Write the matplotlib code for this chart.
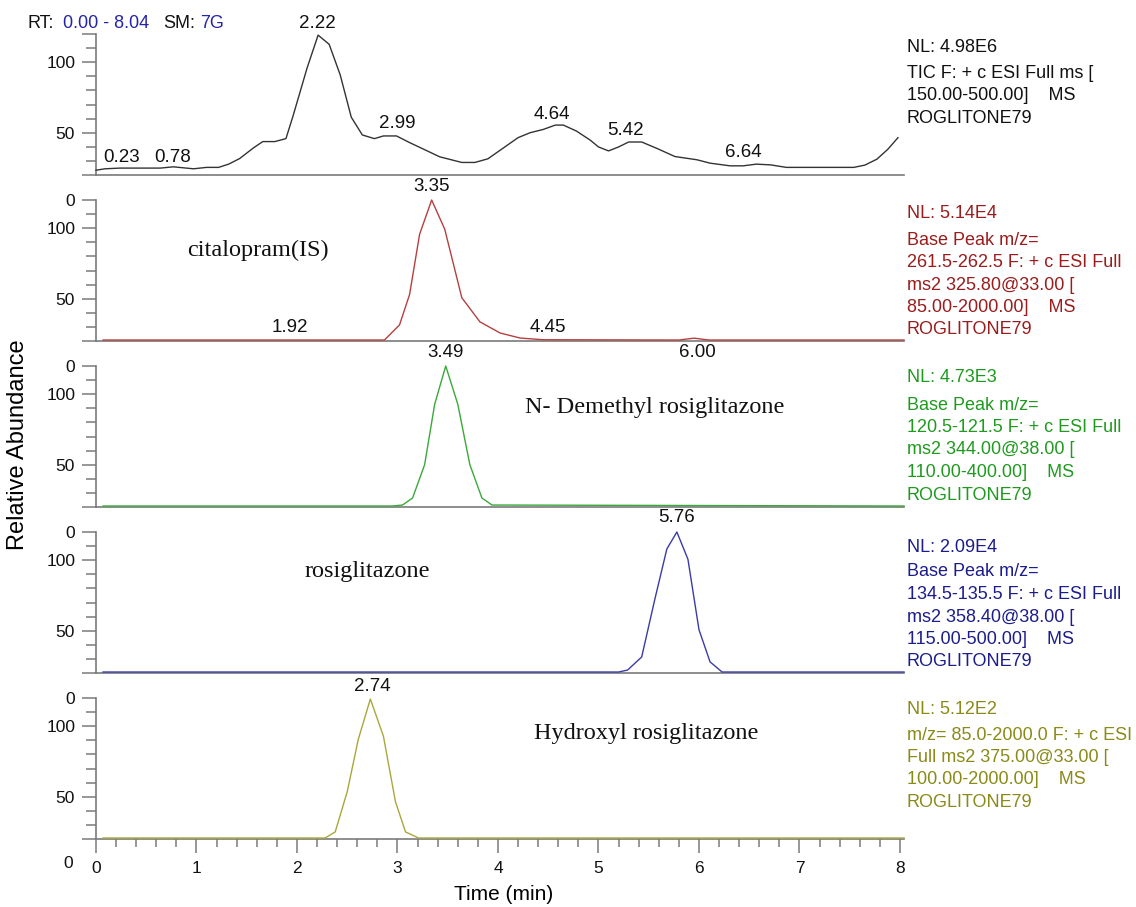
import numpy as np
import matplotlib
matplotlib.use("Agg")
import matplotlib.pyplot as plt

plt.rcParams['font.family'] = ['Liberation Sans', 'DejaVu Sans']

# chromatogram traces (time in min, relative abundance as drawn)
tic_t = [0.00, 0.09, 0.24, 0.64, 0.77, 0.97, 1.10, 1.22, 1.32, 1.43, 1.57, 1.66, 1.78, 1.89,
         1.96, 2.10, 2.21, 2.32, 2.43, 2.54, 2.65, 2.77, 2.86, 2.99, 3.12, 3.26, 3.42, 3.64,
         3.77, 3.90, 4.03, 4.20, 4.32, 4.45, 4.57, 4.65, 4.78, 4.92, 5.00, 5.10, 5.20, 5.30,
         5.43, 5.58, 5.76, 5.98, 6.11, 6.31, 6.44, 6.57, 6.71, 6.87, 7.24, 7.54, 7.65, 7.77,
         7.88, 7.98]
tic_v = [23.4, 24.4, 24.9, 24.9, 25.8, 24.4, 25.4, 25.4, 27.7, 31.7, 39.4, 43.7, 43.7, 45.8,
         61.7, 95.8, 119.2, 112.7, 91.0, 61.0, 48.4, 45.8, 47.7, 47.7, 43.0, 38.3, 32.9, 28.9,
         28.9, 31.5, 38.0, 46.5, 50.0, 52.3, 55.4, 55.4, 51.2, 44.6, 39.9, 37.1, 39.9, 43.4,
         43.4, 38.9, 33.1, 30.8, 28.4, 26.5, 26.5, 27.7, 27.2, 25.4, 25.4, 25.4, 27.0, 31.2,
         38.3, 46.5]

cit_t = [0.07, 2.87, 3.02, 3.12, 3.22, 3.34, 3.47, 3.64, 3.82, 4.02, 4.22, 4.45, 5.80, 5.95, 6.10, 8.04]
cit_v = [20.7, 20.7, 31.4, 52.9, 95.7, 120.0, 99.3, 50.7, 33.6, 25.7, 22.1, 20.9, 20.7, 22.0, 20.7, 20.7]

dm_t = [0.07, 2.95, 3.05, 3.15, 3.27, 3.37, 3.48, 3.60, 3.72, 3.84, 3.94, 8.04]
dm_v = [20.7, 20.7, 21.4, 26.4, 50.0, 92.9, 120.0, 92.9, 50.0, 26.4, 21.4, 20.7]

ro_t = [0.07, 5.20, 5.29, 5.43, 5.56, 5.68, 5.78, 5.89, 6.00, 6.11, 6.23, 8.04]
ro_v = [20.7, 20.7, 22.1, 31.4, 72.1, 107.9, 120.0, 100.7, 50.7, 27.9, 20.7, 20.7]

hy_t = [0.07, 2.28, 2.38, 2.50, 2.61, 2.73, 2.86, 2.98, 3.08, 3.21, 8.04]
hy_v = [20.7, 20.7, 25.0, 53.6, 90.7, 119.3, 92.9, 46.4, 25.0, 20.7, 20.7]

# peak labels: text, time, abundance of label centre
tic_peaks = [("2.22", 2.20, 127.5), ("0.23", 0.25, 32.4), ("0.78", 0.76, 32.4), ("2.99", 3.00, 56.3),
             ("4.64", 4.54, 62.7), ("5.42", 5.27, 51.4), ("6.64", 6.44, 35.9)]
cit_peaks = [("3.35", 3.34, 129.3), ("1.92", 1.93, 29.3), ("4.45", 4.50, 29.3), ("6.00", 5.98, 12.1)]
dm_peaks = [("3.49", 3.48, 129.3)]
ro_peaks = [("5.76", 5.78, 130.0)]
hy_peaks = [("2.74", 2.75, 127.9)]

compounds = ["", "citalopram(IS)", "N- Demethyl rosiglitazone", "rosiglitazone", "Hydroxyl rosiglitazone"]

nl_labels = ["NL: 4.98E6", "NL: 5.14E4", "NL: 4.73E3", "NL: 2.09E4", "NL: 5.12E2"]
scan_info = [
    ["TIC F: + c ESI Full ms [", "150.00-500.00]    MS", "ROGLITONE79"],
    ["Base Peak m/z=", "261.5-262.5 F: + c ESI Full", "ms2 325.80@33.00 [", "85.00-2000.00]    MS", "ROGLITONE79"],
    ["Base Peak m/z=", "120.5-121.5 F: + c ESI Full", "ms2 344.00@38.00 [", "110.00-400.00]    MS", "ROGLITONE79"],
    ["Base Peak m/z=", "134.5-135.5 F: + c ESI Full", "ms2 358.40@38.00 [", "115.00-500.00]    MS", "ROGLITONE79"],
    ["m/z= 85.0-2000.0 F: + c ESI", "Full ms2 375.00@33.00 [", "100.00-2000.00]    MS", "ROGLITONE79"],
]

traces = [(tic_t, tic_v), (cit_t, cit_v), (dm_t, dm_v), (ro_t, ro_v), (hy_t, hy_v)]
peaks = [tic_peaks, cit_peaks, dm_peaks, ro_peaks, hy_peaks]
line_colors = ["#333333", "#b5403f", "#3aa83a", "#3a3aa8", "#a8a83a"]
text_colors = ["#111111", "#9a1c1c", "#1f9a1f", "#1c1c8c", "#8a8a18"]

W, H = 1136, 907
def fx(px):
    return px / W
def fy(py):
    return 1 - py / H

fig = plt.figure(figsize=(W / 100, H / 100), dpi=100)

tops = [34, 200, 366, 532, 698]
ph = 141
axcol = "#7a7a7a"
name_pos = [None, (258, 250), (655, 407), (367, 572), (646, 733)]
nl_y = [47, 213, 378, 547, 710]
info_y = [73, 240, 405, 572, 735]

for i in range(5):
    ax = fig.add_axes([fx(96), fy(tops[i] + ph), fx(808), ph / H])
    t, v = traces[i]
    ax.plot(t, v, color=line_colors[i], lw=1.0, clip_on=False, zorder=3)
    ax.set_xlim(0, 8.04)
    ax.set_ylim(20, 120)
    for s in ["top", "right"]:
        ax.spines[s].set_visible(False)
    for s in ["left", "bottom"]:
        ax.spines[s].set_color(axcol)
        ax.spines[s].set_linewidth(1.2)
    ax.set_yticks([20, 50, 100, 120])
    ax.set_yticklabels(["", "50", "100", "" if i == 0 else "0"])
    ax.set_yticks([30, 40, 60, 70, 80, 90, 110], minor=True)
    ax.tick_params(axis='y', which='major', length=10, width=1.1, color=axcol,
                   labelsize=12.5, pad=5, labelcolor="#111111")
    ax.tick_params(axis='y', which='minor', length=7, width=1.1, color=axcol)
    if i < 4:
        ax.tick_params(axis='x', which='both', bottom=False, labelbottom=False)
    else:
        ax.set_xticks(np.arange(0, 9))
        ax.set_xticks(np.arange(0, 8.01, 0.2), minor=True)
        ax.tick_params(axis='x', which='major', length=10, width=1.1, color=axcol,
                       labelsize=12.5, pad=6, labelcolor="#111111")
        ax.tick_params(axis='x', which='minor', length=6, width=1.1, color=axcol)
    for lab, px_t, px_v in peaks[i]:
        ax.text(px_t, px_v, lab, ha='center', va='center', fontsize=13.5, color="#111111", clip_on=False)
    if compounds[i]:
        fig.text(fx(name_pos[i][0]), fy(name_pos[i][1]), compounds[i], ha='center', va='center',
                 fontsize=17.5, family='Liberation Serif', color="#111111")
    fig.text(fx(907), fy(nl_y[i]), nl_labels[i], ha='left', va='center', fontsize=13, color=text_colors[i])
    for k, line in enumerate(scan_info[i]):
        fig.text(fx(907), fy(info_y[i] + 22.5 * k), line, ha='left', va='center',
                 fontsize=13, color=text_colors[i])

# header
fig.text(fx(28), fy(23), "RT:", ha='left', va='center', fontsize=13, color="#111111")
fig.text(fx(63), fy(23), "0.00 - 8.04", ha='left', va='center', fontsize=13, color="#2424a8")
fig.text(fx(163), fy(23), "SM:", ha='left', va='center', fontsize=13, color="#111111")
fig.text(fx(200), fy(23), "7G", ha='left', va='center', fontsize=13, color="#2424a8")

fig.text(fx(68), fy(863), "0", ha='center', va='center', fontsize=12.5, color="#111111")
fig.text(fx(18), fy(445), "Relative Abundance", rotation=90, ha='center', va='center', fontsize=17)
fig.text(fx(504), fy(895), "Time (min)", ha='center', va='center', fontsize=15)

fig.savefig("out.png", dpi=100)
